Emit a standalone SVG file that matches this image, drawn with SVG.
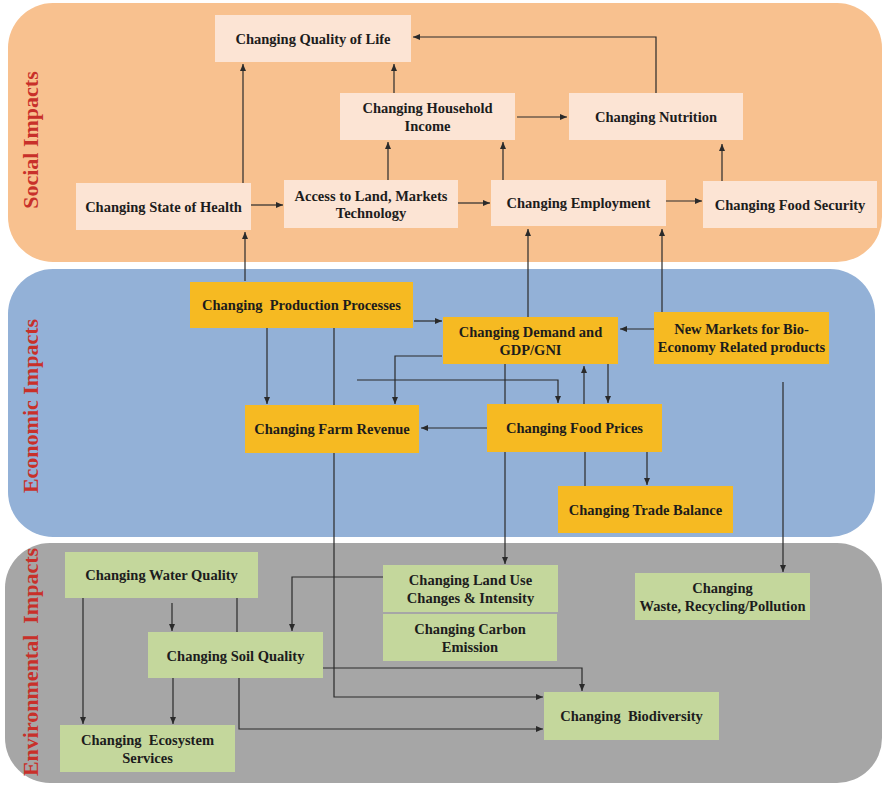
<svg xmlns="http://www.w3.org/2000/svg" width="884" height="785" viewBox="0 0 884 785">
  <defs>
    <marker id="ah" markerWidth="7" markerHeight="6" refX="7" refY="3" orient="auto" markerUnits="userSpaceOnUse">
      <path d="M0,0 L7,3 L0,6 z" fill="#2a2a2a"/>
    </marker>
    <style>
      .t { font-family: 'Liberation Serif', 'DejaVu Serif', serif; font-weight: 700; font-size: 14.5px; fill: #1c1c1c; text-anchor: middle; white-space: pre; }
      .lab { font-family: 'Liberation Serif', 'DejaVu Serif', serif; font-weight: 700; font-size: 22px; fill: #c8302a; text-anchor: middle; white-space: pre; }
      .c { stroke: #2a2a2a; stroke-width: 1.2; fill: none; }
      .a { marker-end: url(#ah); }
      .soc { fill: #fce4d4; }
      .eco { fill: #f6ba22; }
      .env { fill: #c4d79c; }
    </style>
  </defs>

  <rect width="884" height="785" fill="#ffffff"/>

  <!-- impact bands -->
  <g id="bands">
    <rect x="8" y="3" width="874" height="259" rx="45" fill="#f8c18f"/>
    <rect x="8" y="269" width="867" height="268" rx="45" fill="#93b1d7"/>
    <rect x="5" y="543" width="877" height="240" rx="45" fill="#a6a6a6"/>
    <text class="lab" transform="translate(38,140) rotate(-90)">Social Impacts</text>
    <text class="lab" transform="translate(38,406) rotate(-90)">Economic Impacts</text>
    <text class="lab" xml:space="preserve" transform="translate(38,662) rotate(-90)">Environmental  Impacts</text>
  </g>

  <!-- connectors -->
  <g id="connectors">
    <path class="c a" d="M243,183 V64"/>
    <path class="c a" d="M245,281 V232"/>
    <path class="c a" d="M251,205 H283"/>
    <path class="c a" d="M388,180 V142"/>
    <path class="c a" d="M394,93 V64"/>
    <path class="c a" d="M517,117 H567"/>
    <path class="c a" d="M656,93 V37 H413"/>
    <path class="c a" d="M503,180 V142"/>
    <path class="c a" d="M458,203 H490"/>
    <path class="c a" d="M666,201 H702"/>
    <path class="c a" d="M722,181 V144"/>
    <path class="c a" d="M528,317 V229"/>
    <path class="c a" d="M662,312 V229"/>

    <path class="c a" d="M414,321 H442"/>
    <path class="c a" d="M267,328 V404"/>
    <path class="c a" d="M334,328 V697 H543"/>
    <path class="c a" d="M442,356 H395 V404"/>
    <path class="c a" d="M357,380 H558 V403"/>
    <path class="c a" d="M505,364 V564"/>
    <path class="c a" d="M584,404 V366"/>
    <path class="c" d="M585,486 V452"/>
    <path class="c a" d="M608,364 V403"/>
    <path class="c a" d="M647,452 V485"/>
    <path class="c a" d="M487,428 H421"/>
    <path class="c a" d="M654,329 H620"/>
    <path class="c a" d="M783,382 V572"/>

    <path class="c a" d="M83,598 V724"/>
    <path class="c a" d="M172,603 V631"/>
    <path class="c" d="M237,598 V632"/>
    <path class="c a" d="M239,678 V729 H543"/>
    <path class="c a" d="M383,577 H292 V631"/>
    <path class="c a" d="M173,678 V724"/>
    <path class="c a" d="M323,668 H582 V691"/>
  </g>

  <!-- social nodes -->
  <g id="quality-of-life"><rect class="soc" x="215" y="15" width="196" height="47"/><text class="t" x="313" y="43.5">Changing Quality of Life</text></g>
  <g id="household-income"><rect class="soc" x="340" y="93" width="175" height="47"/><text class="t" x="427.5" y="113">Changing Household</text><text class="t" x="427.5" y="131">Income</text></g>
  <g id="nutrition"><rect class="soc" x="569" y="93" width="174" height="47"/><text class="t" x="656" y="122">Changing Nutrition</text></g>
  <g id="state-of-health"><rect class="soc" x="76" y="183" width="175" height="47"/><text class="t" x="163.5" y="212">Changing State of Health</text></g>
  <g id="access"><rect class="soc" x="284" y="180" width="174" height="48"/><text class="t" x="371" y="201">Access to Land, Markets</text><text class="t" x="371" y="218">Technology</text></g>
  <g id="employment"><rect class="soc" x="491" y="180" width="175" height="46"/><text class="t" x="578.5" y="208">Changing Employment</text></g>
  <g id="food-security"><rect class="soc" x="703" y="181" width="174" height="47"/><text class="t" x="790" y="210">Changing Food Security</text></g>

  <!-- economic nodes -->
  <g id="production"><rect class="eco" x="190" y="282" width="223" height="46"/><text class="t" xml:space="preserve" x="301.5" y="310">Changing  Production Processes</text></g>
  <g id="demand"><rect class="eco" x="443" y="317" width="175" height="47"/><text class="t" x="530.5" y="337">Changing Demand and</text><text class="t" x="530.5" y="355">GDP/GNI</text></g>
  <g id="new-markets"><rect class="eco" x="654" y="312" width="175" height="52"/><text class="t" x="741.5" y="334">New Markets for Bio-</text><text class="t" x="741.5" y="352">Economy Related products</text></g>
  <g id="farm-revenue"><rect class="eco" x="245" y="405" width="174" height="48"/><text class="t" x="332" y="434">Changing Farm Revenue</text></g>
  <g id="food-prices"><rect class="eco" x="487" y="404" width="175" height="48"/><text class="t" x="574.5" y="433">Changing Food Prices</text></g>
  <g id="trade-balance"><rect class="eco" x="558" y="486" width="175" height="47"/><text class="t" x="645.5" y="515">Changing Trade Balance</text></g>

  <!-- environmental nodes -->
  <g id="water-quality"><rect class="env" x="65" y="552" width="193" height="46"/><text class="t" x="161.5" y="580">Changing Water Quality</text></g>
  <g id="land-use"><rect class="env" x="383" y="565" width="175" height="47"/><text class="t" x="470.5" y="585">Changing Land Use</text><text class="t" x="470.5" y="603">Changes &amp; Intensity</text></g>
  <g id="carbon-emission"><rect class="env" x="383" y="614" width="174" height="47"/><text class="t" x="470" y="634">Changing Carbon</text><text class="t" x="470" y="652">Emission</text></g>
  <g id="waste"><rect class="env" x="635" y="573" width="175" height="47"/><text class="t" x="722.5" y="593">Changing</text><text class="t" x="722.5" y="611">Waste, Recycling/Pollution</text></g>
  <g id="soil-quality"><rect class="env" x="148" y="632" width="175" height="46"/><text class="t" x="235.5" y="661">Changing Soil Quality</text></g>
  <g id="biodiversity"><rect class="env" x="544" y="692" width="175" height="48"/><text class="t" xml:space="preserve" x="631.5" y="721">Changing  Biodiversity</text></g>
  <g id="ecosystem-services"><rect class="env" x="60" y="725" width="175" height="47"/><text class="t" xml:space="preserve" x="147.5" y="745">Changing  Ecosystem</text><text class="t" x="147.5" y="763">Services</text></g>
</svg>
